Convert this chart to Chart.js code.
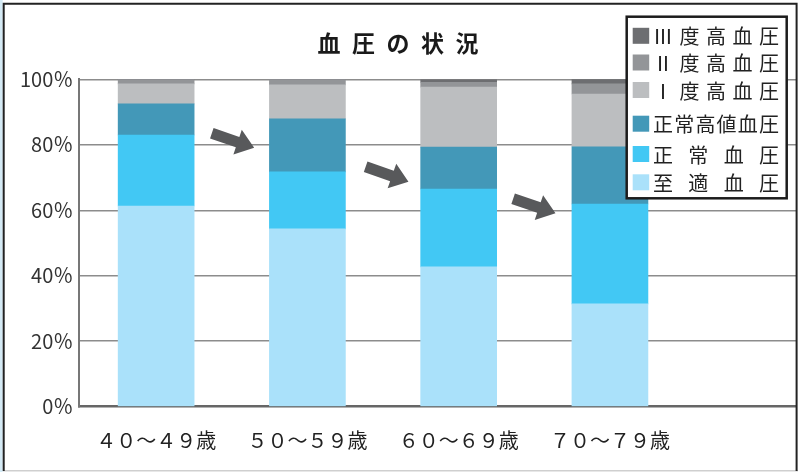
<!DOCTYPE html>
<html>
<head>
<meta charset="utf-8">
<script src="https://cdn.jsdelivr.net/npm/chart.js@4.4.1/dist/chart.umd.min.js"></script>
<style>
body { margin: 0; background: #fff; }
</style>
</head>
<body>
<canvas id="chart1" width="798" height="472"></canvas>
<script>
var ageGroups = ['４０～４９歳', '５０～５９歳', '６０～６９歳', '７０～７９歳']
var optimal = [61.3, 54.3, 42.7, 31.4]      // 至適血圧
var normal = [21.7, 17.4, 23.8, 30.5]       // 正常血圧
var highNormal = [9.5, 16.2, 12.8, 17.5]    // 正常高値血圧
var grade1 = [6.1, 10.4, 18.3, 16.1]        // Ⅰ度高血圧
var grade2 = [1.4, 1.7, 1.5, 3.1]           // Ⅱ度高血圧
var grade3 = [0, 0, 0.8, 1.4]               // Ⅲ度高血圧
var yTicks = [0, 20, 40, 60, 80, 100]

var JP = '"Noto Sans CJK JP", "Noto Sans", sans-serif'

function points(vals) {
    return vals.map(function (v, i) { return {x: i, y: v} })
}

// white page + thin frame round the whole picture
var framePlugin = {
    id: 'frame',
    beforeDraw: function (chart) {
        var ctx = chart.ctx
        ctx.save()
        ctx.fillStyle = '#fff'
        ctx.fillRect(0, 0, chart.width, chart.height)
        ctx.restore()
    },
    afterDraw: function (chart) {
        var ctx = chart.ctx
        ctx.save()
        ctx.fillStyle = '#d4eaf5'
        ctx.fillRect(0, 0, 2.7, chart.height)
        ctx.strokeStyle = '#cfcfcf'
        ctx.lineWidth = 1.5
        ctx.beginPath(); ctx.moveTo(3, 470.8); ctx.lineTo(chart.width, 470.8); ctx.stroke()
        ctx.strokeStyle = '#222'
        ctx.lineWidth = 2
        ctx.beginPath()
        ctx.moveTo(3.7, 471); ctx.lineTo(3.7, 3.7); ctx.lineTo(796.6, 3.7); ctx.lineTo(796.6, 471)
        ctx.stroke()
        ctx.restore()
    }
}

// block arrows between the bars, given in axis units
var arrowPlugin = {
    id: 'arrows',
    afterDatasetsDraw: function (chart, args, opts) {
        var ctx = chart.ctx
        var xs = chart.scales.x, ys = chart.scales.y
        opts.list.forEach(function (a) {
            var x1 = xs.getPixelForValue(a[0]), y1 = ys.getPixelForValue(a[1])
            var x2 = xs.getPixelForValue(a[2]), y2 = ys.getPixelForValue(a[3])
            var len = Math.hypot(x2 - x1, y2 - y1)
            var hl = opts.headLength, hw = opts.headWidth / 2, sw = opts.shaftWidth / 2
            ctx.save()
            ctx.translate(x1, y1)
            ctx.rotate(Math.atan2(y2 - y1, x2 - x1))
            ctx.fillStyle = opts.color
            ctx.beginPath()
            ctx.moveTo(0, -sw)
            ctx.lineTo(len - hl, -sw)
            ctx.lineTo(len - hl, -hw)
            ctx.lineTo(len, 0)
            ctx.lineTo(len - hl, hw)
            ctx.lineTo(len - hl, sw)
            ctx.lineTo(0, sw)
            ctx.closePath()
            ctx.fill()
            ctx.restore()
        })
    }
}

// boxed legend in the top right, over the plot, last series first
var legendBox = {
    id: 'legendBox',
    afterDraw: function (chart, args, opts) {
        var ctx = chart.ctx
        var sets = chart.data.datasets.slice().reverse()
        ctx.save()
        ctx.fillStyle = '#fff'
        ctx.fillRect(opts.left, opts.top, opts.width, opts.height)
        ctx.strokeStyle = '#1c1c1c'
        ctx.lineWidth = 2.5
        ctx.strokeRect(opts.left, opts.top, opts.width, opts.height)
        ctx.font = '20px ' + JP
        ctx.textAlign = 'center'
        ctx.textBaseline = 'middle'
        sets.forEach(function (ds, k) {
            var cy = opts.rows[k]
            ctx.fillStyle = ds.backgroundColor
            ctx.fillRect(opts.left + 6, cy - 8, 16.5, 16)
            var chars = Array.from(ds.label)
            var cw = 20
            var step = (opts.textRight - opts.textLeft - cw) / (chars.length - 1)
            ctx.fillStyle = '#222'
            chars.forEach(function (c, i) {
                ctx.fillText(c, opts.textLeft + cw / 2 + i * step, cy + 1)
            })
        })
        ctx.restore()
    }
}

var ctx1 = document.getElementById('chart1')
new Chart(ctx1, {
    type: 'bar',
    data: {
        datasets: [
            {label: '至適血圧', data: points(optimal), backgroundColor: '#aae1fa'},
            {label: '正常血圧', data: points(normal), backgroundColor: '#42c8f4'},
            {label: '正常高値血圧', data: points(highNormal), backgroundColor: '#4398b8'},
            {label: 'Ⅰ度高血圧', data: points(grade1), backgroundColor: '#bcbec0'},
            {label: 'Ⅱ度高血圧', data: points(grade2), backgroundColor: '#939598'},
            {label: 'Ⅲ度高血圧', data: points(grade3), backgroundColor: '#6d6e71'}
        ]
    },
    options: {
        responsive: false,
        animation: false,
        layout: {padding: {left: 0, right: 2, top: 0, bottom: 0}},
        datasets: {bar: {barThickness: 76, borderWidth: 0}},
        scales: {
            x: {
                type: 'linear',
                min: -0.508,
                max: 4.23,
                stacked: true,
                offset: false,
                grid: {display: false},
                border: {color: '#666', width: 2.5},
                afterBuildTicks: function (s) {
                    s.ticks = ageGroups.map(function (g, i) { return {value: i} })
                },
                afterFit: function (s) { s.height = 65.3 },
                ticks: {
                    autoSkip: false,
                    maxRotation: 0,
                    padding: 14,
                    color: '#222',
                    font: {family: JP, size: 20},
                    callback: function (v) { return ageGroups[v] }
                }
            },
            y: {
                stacked: true,
                min: 0,
                max: 100,
                afterBuildTicks: function (s) {
                    s.ticks = yTicks.map(function (v) { return {value: v} })
                },
                afterFit: function (s) { s.width = 79.3 },
                grid: {
                    drawTicks: false,
                    lineWidth: 1.5,
                    color: function (c) { return c.tick && c.tick.value === 0 ? 'rgba(0,0,0,0)' : '#8c8c8c' }
                },
                border: {color: '#777', width: 2},
                ticks: {
                    padding: 6,
                    color: '#333',
                    font: {family: JP, size: 20},
                    callback: function (v) { return v + '％' }
                }
            }
        },
        plugins: {
            legend: {display: false},
            tooltip: {enabled: false},
            title: {
                display: true,
                text: '血\u2002圧\u2002の\u2002状\u2002況',
                color: '#1a1a1a',
                font: {family: JP, size: 23, weight: 'bold'},
                padding: {top: 29.5, bottom: 22.2}
            },
            arrows: {
                color: '#58595b',
                shaftWidth: 11,
                headWidth: 26,
                headLength: 17.5,
                list: [[0.368, 83.5, 0.648, 79.1], [1.385, 73.3, 1.668, 68.7], [2.36, 63.5, 2.64, 59.1]]
            },
            legendBox: {
                left: 626.7, top: 16.7, width: 160, height: 181.6,
                textLeft: 653, textRight: 779,
                rows: [35.8, 62.5, 90, 123.7, 154, 182.3]
            }
        }
    },
    plugins: [framePlugin, arrowPlugin, legendBox]
})
</script>
</body>
</html>
